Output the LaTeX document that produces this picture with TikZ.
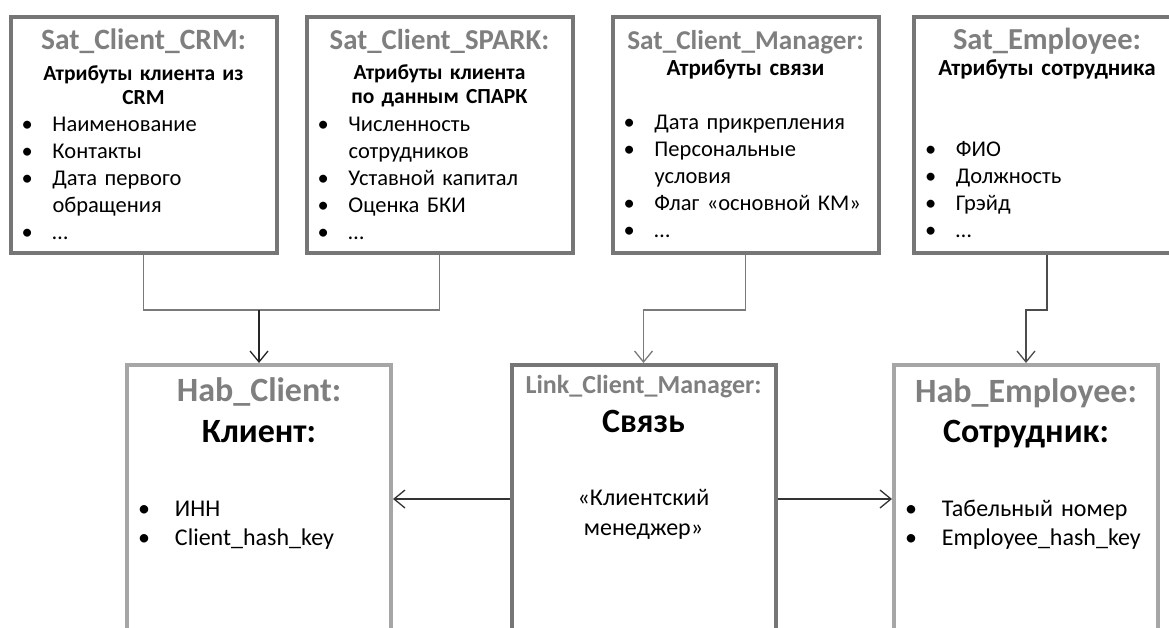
\documentclass[tikz,border=0pt]{standalone}
\usepackage{fontspec}
\setmainfont{Carlito}
\usetikzlibrary{arrows.meta}

\definecolor{titlegray}{HTML}{7F7F7F}
\definecolor{satframe}{HTML}{767676}
\definecolor{hubframe}{HTML}{A6A6A6}
\definecolor{wiregray}{HTML}{7A7A7A}

% list: every line moved in by \leftskip, bullet hangs to the left of it
\newcommand{\bltlist}[1][42pt]{\leftskip=#1\relax\def\bltgap{#1}}
\newcommand{\blt}{\leavevmode\llap{\makebox[\dimexpr\bltgap-11pt\relax][l]{\textbullet}}\ignorespaces}

\begin{document}
\begin{tikzpicture}[x=1pt,y=-1pt,
    satbox/.style={draw=satframe,line width=4pt,minimum width=266pt,minimum height=236pt,inner sep=0pt},
    hubbox/.style={draw=hubframe,line width=4pt,minimum width=264pt,minimum height=268pt,inner sep=0pt},
    linkbox/.style={hubbox,draw=satframe},
    sattitle/.style={anchor=base,inner sep=0pt,text=titlegray,font=\fontsize{#1}{30}\selectfont\bfseries},
    sathead/.style={anchor=base,inner sep=0pt,align=center,text width=262pt,font=\fontsize{#1}{23.5}\selectfont\bfseries},
    satlist/.style={anchor=base,inner sep=0pt,align=left,text width=266pt,font=\fontsize{22.5}{27}\selectfont},
    hubtitle/.style={anchor=base,inner sep=0pt,text=titlegray,font=\fontsize{34}{36}\selectfont\bfseries},
    hubhead/.style={anchor=base,inner sep=0pt,font=\fontsize{34}{36}\selectfont\bfseries},
    hublist/.style={anchor=base,inner sep=0pt,align=left,text width=264pt,font=\fontsize{24}{29}\selectfont},
    wire/.style={draw=wiregray,line width=1.3pt},
    arr/.style={wire,-{Straight Barb[length=11pt,width=18pt]}}]

    \path[use as bounding box,clip] (0,0) rectangle (1169,628);

    % satellites
    \node[satbox] (crm) at (143.5,135) {};
    \node[satbox] (spark) at (439.5,135) {};
    \node[satbox] (satmgr) at (745.5,135) {};
    \node[satbox] (satemp) at (1047,135) {};

    \node[sattitle=29.5] (crm-t) at (143.5,50) {Sat\_Client\_CRM:};
    \node[sathead=21.5] (crm-h) at (143.5,81) {Атрибуты клиента из\\CRM};
    \node[satlist] (crm-l) at (143.5,132) {\bltlist\blt Наименование\\
        \blt Контакты\\
        \blt Дата первого\\обращения\\
        \blt …\par};

    \node[sattitle=28.8] (spark-t) at (439.5,50) {Sat\_Client\_SPARK:};
    \node[sathead=21.5] (spark-h) at (439.5,80) {Атрибуты клиента\\по данным СПАРК};
    \node[satlist] (spark-l) at (439.5,132) {\bltlist\blt Численность\\сотрудников\\
        \blt Уставной капитал\\
        \blt Оценка БКИ\\
        \blt …\par};

    \node[sattitle=27.2] (satmgr-t) at (745.5,50) {Sat\_Client\_Manager:};
    \node[sathead=23] (satmgr-h) at (745.5,76) {Атрибуты связи};
    \node[satlist] (satmgr-l) at (745.5,130) {\bltlist\blt Дата прикрепления\\
        \blt Персональные\\условия\\
        \blt Флаг «основной КМ»\\
        \blt …\par};

    \node[sattitle=30.5] (satemp-t) at (1047,50) {Sat\_Employee:};
    \node[sathead=23] (satemp-h) at (1047,76) {Атрибуты сотрудника};
    \node[satlist] (satemp-l) at (1047,157) {\bltlist\blt ФИО\\
        \blt Должность\\
        \blt Грэйд\\
        \blt …\par};

    % hubs and link
    \node[hubbox] (hubc) at (259,499) {};
    \node[linkbox] (link) at (643.5,499) {};
    \node[hubbox] (hube) at (1026,499) {};

    \node[hubtitle] (hubc-t) at (259,401) {Hab\_Client:};
    \node[hubhead] (hubc-h) at (259,442) {Клиент:};
    \node[hublist] (hubc-l) at (259,516) {\bltlist[48pt]\blt ИНН\\
        \blt Client\_hash\_key\par};

    \node[hubtitle,font=\fontsize{26}{28}\selectfont\bfseries] (link-t) at (643.5,393) {Link\_Client\_Manager:};
    \node[hubhead] (link-h) at (643.5,432) {Связь};
    \node[anchor=base,inner sep=0pt,align=center,text width=250pt,font=\fontsize{24}{30}\selectfont] (link-l) at (643.5,505) {«Клиентский\\менеджер»};

    \node[hubtitle] (hube-t) at (1026,402) {Hab\_Employee:};
    \node[hubhead] (hube-h) at (1026,442) {Сотрудник:};
    \node[hublist] (hube-l) at (1026,516) {\bltlist[48pt]\blt Табельный номер\\
        \blt Employee\_hash\_key\par};

    % connectors
    \draw[wire] (crm.south) -- ++(0,55) coordinate (crmbend) -| (spark.south);
    \draw[arr,draw=black!85] (crmbend -| hubc.north) -- (hubc.north);
    \draw[arr] (satmgr.south) -- ++(0,55) -| (link.north);
    \draw[arr,draw=black!70] (satemp.south) -- ++(0,55) -| (hube.north);
    \draw[arr,draw=black!80] (link.west) -- (hubc.east);
    \draw[arr,draw=black!80] (link.east) -- (hube.west);
\end{tikzpicture}
\end{document}
